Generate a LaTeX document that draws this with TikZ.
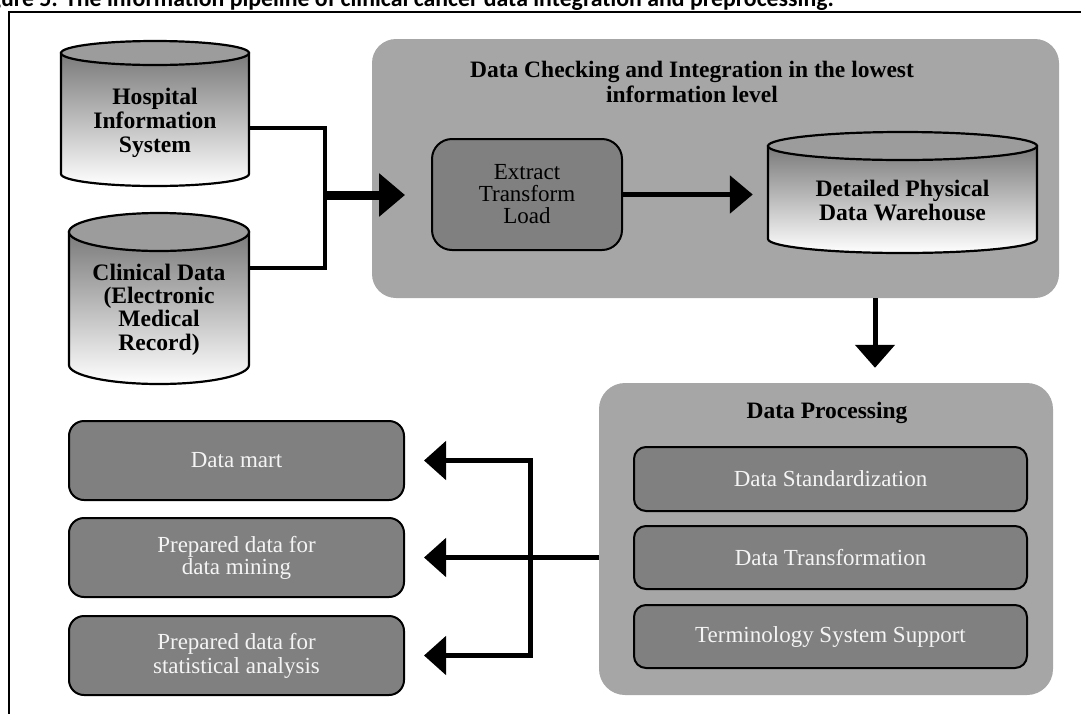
\documentclass[tikz,border=0pt]{standalone}
\usepackage{fontspec}
\setmainfont{Liberation Serif}
\newfontfamily\capfont{Carlito}
\usetikzlibrary{arrows.meta,calc}
\definecolor{boxgray}{HTML}{A6A6A6}
\definecolor{ingray}{HTML}{808080}
\definecolor{cyltop}{HTML}{9C9C9C}
\definecolor{cylbody}{HTML}{7A7A7A}
\definecolor{lighttext}{HTML}{F4F4F4}
\newcommand\dbcyl[5]{%
  \path[draw=black, line width=2.2pt, top color=cylbody, bottom color=white]
    (#1,#3+#5) -- (#1,#4-#5) arc[start angle=180,end angle=0,x radius={(#2-#1)/2},y radius=#5] -- (#2,#3+#5) -- cycle;
  \draw[line width=2.2pt, fill=cyltop] ({(#1+#2)/2},#3+#5) ellipse[x radius={(#2-#1)/2}, y radius=#5];
}
\begin{document}
\begin{tikzpicture}[x=1pt,y=-1pt,line join=miter,
  bigbox/.style={fill=boxgray, draw=none, rounded corners=24pt, inner sep=0pt},
  darkbox/.style={fill=ingray, draw=black, line width=2pt, text=lighttext, align=center, font=\fontsize{23}{24}\selectfont, inner sep=0pt},
  cyltext/.style={align=center, font=\bfseries\fontsize{23.6}{24.2}\selectfont, inner sep=0pt},
  titletext/.style={align=center, font=\bfseries\fontsize{23.5}{25}\selectfont, inner sep=0pt},
  conn/.style={line width=5pt},
  tipL/.style={-{Triangle[length=22pt,width=38pt]}}
]
\useasboundingbox (0,0) rectangle (1081,713);
% caption and frame
\node[anchor=base east, font=\capfont\bfseries\fontsize{23.8}{24}\selectfont, inner sep=0pt] (cap) at (834,6)
  {Figure 5: The information pipeline of clinical cancer data integration and preprocessing.};
\draw[line width=2pt] (1090,12) -| (9,720);
% big containers
\node[bigbox, minimum width=687pt, minimum height=259pt] (box1) at (715.5,168.5) {};
\node[bigbox, rounded corners=26pt, minimum width=454pt, minimum height=312pt] (box2) at (826,539) {};
\node[titletext] (t1) at (692,82) {Data Checking and Integration in the lowest\\information level};
\node[titletext] (t2) at (827,413) {Data Processing};
% cylinders
\dbcyl{61}{249}{41}{186}{12}
\node[cyltext, minimum width=188pt] (hosp) at (155,123) {Hospital\\Information\\System};
\dbcyl{69}{249}{213}{384}{19}
\node[cyltext, minimum width=180pt, font=\bfseries\fontsize{23.6}{23.3}\selectfont] (clin) at (159,309.5) {Clinical Data\\(Electronic\\Medical\\Record)};
\dbcyl{768}{1037}{132}{253}{14}
\node[cyltext, minimum width=269pt] (wh) at (902.5,200.5) {Detailed Physical\\Data Warehouse};
% ETL
\node[darkbox, text=black, rounded corners=20pt, minimum width=190pt, minimum height=111pt, font=\fontsize{23}{22}\selectfont] (etl) at (527,194.5) {Extract\\Transform\\Load};
% processing steps
\node[darkbox, rounded corners=12pt, minimum width=393pt, minimum height=64pt] (std) at (830.5,479) {Data Standardization};
\node[darkbox, rounded corners=12pt, minimum width=393pt, minimum height=63pt] (trans) at (830.5,557.5) {Data Transformation};
\node[darkbox, rounded corners=12pt, minimum width=393pt, minimum height=63pt] (term) at (830.5,636.5) {Terminology System Support};
% outputs
\node[darkbox, rounded corners=15pt, minimum width=335pt, minimum height=79pt] (mart) at (236.5,460.5) {Data mart};
\node[darkbox, rounded corners=15pt, minimum width=335pt, minimum height=79pt, font=\fontsize{23}{20}\selectfont] (mining) at (236.5,557.5) {Prepared data for\\data mining};
\node[darkbox, rounded corners=15pt, minimum width=335pt, minimum height=79pt, font=\fontsize{23}{24}\selectfont] (stat) at (236.5,655.5) {Prepared data for\\statistical analysis};
% connectors
\coordinate (jn) at (325,195);
\draw[line width=4.5pt] ([yshift=-5pt]hosp.east) -| (jn);
\draw[line width=4.5pt] ([yshift=41.5pt]clin.east) -| (jn);
\draw[line width=9pt, -{Triangle[length=26pt,width=42pt]}, shorten >=26pt] (jn) -- (jn -| etl.west);
\draw[line width=5.5pt, -{Triangle[length=23pt,width=37pt]}, shorten >=15pt] (etl.east) -- (etl.east -| wh.west);
\coordinate (dx) at (875,0);
\draw[conn, -{Triangle[length=23pt,width=39pt]}, shorten >=15pt] (box1.south -| dx) -- (box2.north -| dx);
\coordinate (vs) at (530,0);
\draw[conn, tipL, shorten >=19pt] (mining.east -| box2.west) -- (mining.east);
\draw[conn, line cap=rect] (vs |- mart.east) -- (vs |- stat.east);
\draw[conn, tipL, shorten >=19pt] (vs |- mart.east) -- (mart.east);
\draw[conn, tipL, shorten >=19pt] (vs |- stat.east) -- (stat.east);
\end{tikzpicture}
\end{document}
